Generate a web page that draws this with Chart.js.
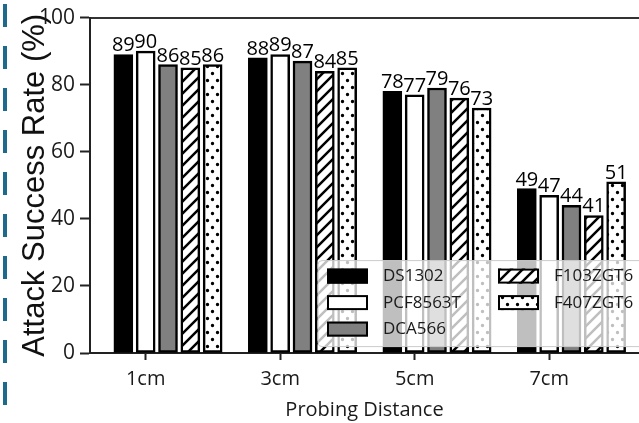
<!DOCTYPE html>
<html lang="en">
  <head>
    <meta charset="UTF-8">
    <title>Attack Success Rate</title>
    <style>
      body { margin: 0; background: #fff; }
      .wrap { position: relative; width: 639px; height: 423px; overflow: hidden; }
      .dashes {
        position: absolute; left: 3px; top: 4px; width: 4px; height: 419px;
        background: repeating-linear-gradient(to bottom, #1e6a8c 0 23px, transparent 23px 42px);
      }
      canvas { position: absolute; left: 0; top: 0; }
    </style>
  </head>
  <body>
    <div class="wrap">
      <div class="dashes"></div>
      <canvas id="myChart" width="639" height="423"></canvas>
    </div>

    <script src="https://cdn.jsdelivr.net/npm/chart.js"></script>
    <script>
      // data
      const distances = ["1cm", "3cm", "5cm", "7cm"];
      const chips = ["DS1302", "PCF8563T", "DCA566", "F103ZGT6", "F407ZGT6"];
      const ds1302 = [89, 88, 78, 49];
      const pcf8563t = [90, 89, 77, 47];
      const dca566 = [86, 87, 79, 44];
      const f103zgt6 = [85, 84, 76, 41];
      const f407zgt6 = [86, 85, 73, 51];
      const yTicks = [0, 20, 40, 60, 80, 100];

      const BAR_STEP = 0.166; // bar pitch in category units, tick sits on 2nd bar

      function hatchPattern() {
        const c = document.createElement("canvas");
        c.width = 12; c.height = 12;
        const g = c.getContext("2d");
        g.fillStyle = "#fff";
        g.fillRect(0, 0, 12, 12);
        g.strokeStyle = "#000";
        g.lineWidth = 2.5;
        g.beginPath();
        g.moveTo(-1, 13); g.lineTo(13, -1);
        g.moveTo(-7, 7); g.lineTo(7, -7);
        g.moveTo(5, 19); g.lineTo(19, 5);
        g.stroke();
        return g.createPattern(c, "repeat");
      }

      function dotPattern() {
        const c = document.createElement("canvas");
        c.width = 10; c.height = 14;
        const g = c.getContext("2d");
        g.fillStyle = "#fff";
        g.fillRect(0, 0, 10, 14);
        g.fillStyle = "#000";
        g.beginPath();
        g.arc(2.5, 3.5, 1.7, 0, Math.PI * 2);
        g.arc(7.5, 10.5, 1.7, 0, Math.PI * 2);
        g.fill();
        return g.createPattern(c, "repeat");
      }

      const fills = ["#000000", "#ffffff", "#808080", hatchPattern(), dotPattern()];
      const series = [ds1302, pcf8563t, dca566, f103zgt6, f407zgt6];

      const valueLabels = {
        id: "valueLabels",
        afterDatasetsDraw(chart) {
          const ctx = chart.ctx;
          ctx.save();
          ctx.font = "20px 'Open Sans'";
          ctx.fillStyle = "#000";
          ctx.textAlign = "center";
          ctx.textBaseline = "alphabetic";
          chart.data.datasets.forEach((ds, di) => {
            chart.getDatasetMeta(di).data.forEach((bar, i) => {
              ctx.fillText(String(ds.data[i].y), bar.x, bar.y - 3);
            });
          });
          ctx.restore();
        }
      };

      const boxLegend = {
        id: "boxLegend",
        afterDraw(chart) {
          const ctx = chart.ctx;
          const a = chart.chartArea;
          const left = a.left + 228, top = a.top + 243;
          ctx.save();
          ctx.fillStyle = "rgba(255,255,255,0.75)";
          ctx.strokeStyle = "#cccccc";
          ctx.lineWidth = 1;
          ctx.beginPath();
          ctx.roundRect(left, top, 340, 86, 4);
          ctx.fill();
          ctx.stroke();
          ctx.font = "17px 'Open Sans'";
          ctx.textBaseline = "middle";
          ctx.textAlign = "left";
          chips.forEach((name, k) => {
            const col = Math.floor(k / 3), row = k % 3;
            const sx = left + 9 + col * 171;
            const sy = top + 8 + row * 26.5;
            ctx.fillStyle = fills[k];
            ctx.fillRect(sx, sy, 41, 15);
            ctx.strokeStyle = "#000";
            ctx.lineWidth = 2;
            ctx.strokeRect(sx + 1, sy + 1, 39, 13);
            ctx.fillStyle = "#1a1a1a";
            ctx.fillText(name, sx + 56, sy + 8);
          });
          ctx.restore();
        }
      };

      const xMin = -0.414, xMax = 3.668;

      new Chart(document.getElementById("myChart"), {
        type: "bar",
        data: {
          datasets: chips.map((name, k) => ({
            label: name,
            data: series[k].map((v, i) => ({ x: i + (k - 1) * BAR_STEP, y: v })),
            backgroundColor: fills[k],
            borderColor: "#000",
            borderWidth: 2.5,
            borderSkipped: false,
            barThickness: 19,
            grouped: false,
          })),
        },
        options: {
          responsive: false,
          animation: false,
          layout: { padding: { top: 14, right: 0, bottom: 0, left: 0 } },
          plugins: { legend: { display: false }, tooltip: { enabled: false } },
          scales: {
            x: {
              type: "linear",
              offset: false,
              min: xMin,
              max: xMax,
              afterBuildTicks: (axis) => { axis.ticks = distances.map((d, i) => ({ value: i })); },
              afterFit: (axis) => { axis.height = 70; },
              ticks: {
                callback: (v) => distances[v],
                font: { family: "Open Sans", size: 20 },
                color: "#1a1a1a",
                padding: 7,
                maxRotation: 0,
              },
              grid: { offset: false, drawOnChartArea: false, tickLength: 7, tickWidth: 2, tickColor: "#222" },
              border: { color: "#222", width: 2 },
              title: {
                display: true,
                text: "Probing Distance",
                font: { family: "Open Sans", size: 20 },
                color: "#1a1a1a",
                padding: { top: 0, bottom: 1 },
              },
            },
            x2: {
              type: "linear",
              position: "top",
              offset: false,
              min: xMin,
              max: xMax,
              ticks: { display: false },
              grid: { display: false, drawTicks: false },
              border: { display: true, color: "#333", width: 2 },
            },
            y: {
              min: 0,
              max: 100,
              afterBuildTicks: (axis) => { axis.ticks = yTicks.map((v) => ({ value: v })); },
              afterFit: (axis) => { axis.width = 90; },
              ticks: {
                font: { family: "Open Sans", size: 21 },
                color: "#1a1a1a",
                padding: 5,
              },
              grid: { drawOnChartArea: false, tickLength: 10, tickWidth: 2, tickColor: "#222" },
              border: { color: "#222", width: 2 },
              title: {
                display: true,
                text: "Attack Success Rate (%)",
                font: { family: "Liberation Sans", size: 31 },
                color: "#111",
                padding: { top: 17, bottom: 0 },
              },
            },
          },
        },
        plugins: [valueLabels, boxLegend],
      });
    </script>
  </body>
</html>
